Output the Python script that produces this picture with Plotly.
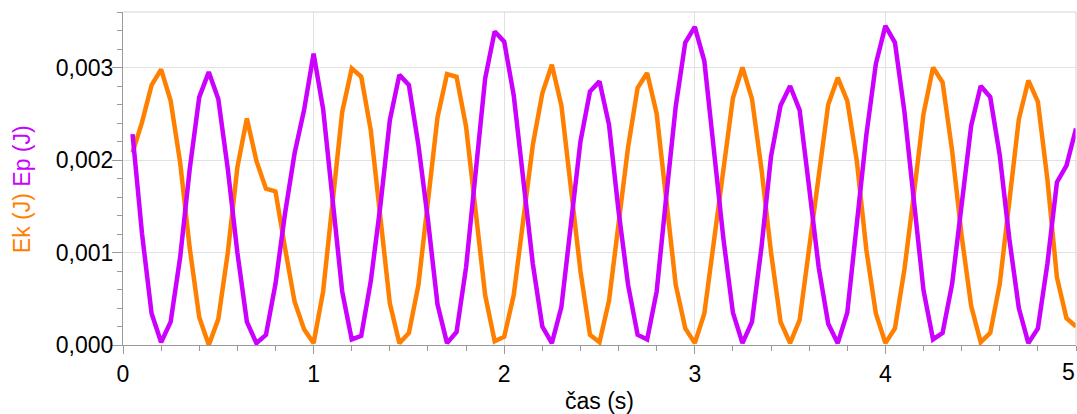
import numpy as np
import plotly.graph_objects as go

# time samples (s)
time_s = [round(0.05 * i, 2) for i in range(1, 101)]

# kinetic energy Ek (mJ)
ek_mj = [
    2.08, 2.41, 2.81, 2.98, 2.64, 1.97, 1.05, 0.30, 0.00, 0.28,
    1.00, 1.92, 2.45, 1.99, 1.69, 1.66, 1.05, 0.47, 0.17, 0.02,
    0.58, 1.58, 2.52, 2.99, 2.90, 2.32, 1.38, 0.45, 0.02, 0.13,
    0.65, 1.60, 2.46, 2.93, 2.90, 2.36, 1.45, 0.54, 0.04, 0.09,
    0.54, 1.40, 2.16, 2.72, 3.03, 2.59, 1.67, 0.80, 0.11, 0.03,
    0.48, 1.28, 2.14, 2.78, 2.94, 2.50, 1.55, 0.65, 0.18, 0.02,
    0.34, 1.14, 1.95, 2.67, 3.00, 2.66, 1.90, 1.00, 0.25, 0.02,
    0.27, 1.03, 1.86, 2.60, 2.89, 2.64, 1.99, 1.03, 0.34, 0.02,
    0.18, 0.82, 1.64, 2.50, 3.00, 2.84, 2.10, 1.18, 0.42, 0.03,
    0.13, 0.66, 1.55, 2.44, 2.86, 2.63, 1.79, 0.73, 0.29, 0.20,
]

# potential energy Ep (mJ)
ep_mj = [
    2.28, 1.20, 0.34, 0.03, 0.25, 0.95, 1.90, 2.68, 2.95, 2.66,
    1.90, 1.00, 0.25, 0.02, 0.11, 0.66, 1.42, 2.07, 2.54, 3.15,
    2.55, 1.58, 0.58, 0.06, 0.10, 0.69, 1.50, 2.43, 2.92, 2.81,
    2.16, 1.35, 0.44, 0.02, 0.14, 0.84, 1.84, 2.88, 3.39, 3.28,
    2.70, 1.75, 0.88, 0.20, 0.02, 0.41, 1.33, 2.20, 2.74, 2.85,
    2.38, 1.45, 0.65, 0.11, 0.06, 0.58, 1.60, 2.58, 3.27, 3.44,
    3.07, 2.15, 1.15, 0.35, 0.02, 0.25, 1.06, 2.04, 2.59, 2.80,
    2.54, 1.70, 0.84, 0.23, 0.02, 0.35, 1.28, 2.27, 3.04, 3.45,
    3.27, 2.52, 1.55, 0.59, 0.06, 0.13, 0.66, 1.48, 2.37, 2.80,
    2.68, 2.05, 1.15, 0.40, 0.02, 0.18, 0.88, 1.76, 1.94, 2.34,
]

x_ticks = [0, 1, 2, 3, 4, 5]
y_ticks = [0.0, 0.001, 0.002, 0.003]

ek = np.array(ek_mj) * 1e-3
ep = np.array(ep_mj) * 1e-3

ORANGE = "#FF8000"
PURPLE = "#CC00FF"
FONT = "Liberation Sans, Arial, sans-serif"
AX = "#9a9a9a"
FS = 23

fig = go.Figure()
fig.add_trace(go.Scatter(x=time_s, y=ek, mode="lines",
                         line=dict(color=ORANGE, width=4.5), name="Ek"))
fig.add_trace(go.Scatter(x=time_s, y=ep, mode="lines",
                         line=dict(color=PURPLE, width=4.5), name="Ep"))

annotations = [dict(
    text=f"<span style='color:{ORANGE}'>Ek (J)</span> "
         f"<span style='color:{PURPLE}'>Ep (J)</span>",
    xref="paper", yref="paper",
    x=-0.106, y=0.468, xanchor="center", yanchor="middle",
    textangle=-90, showarrow=False,
    font=dict(size=FS, family=FONT),
)]
# last x tick label sits at the right edge; keep it just inside the window
annotations.append(dict(
    text=str(x_ticks[-1]), x=x_ticks[-1], xref="x",
    y=0, yref="paper", yshift=-12, xanchor="right", yanchor="top",
    xshift=1, showarrow=False,
    font=dict(size=FS, family=FONT, color="black"),
))

fig.update_layout(
    width=1077, height=414,
    margin=dict(l=123, r=1, t=12, b=69),
    paper_bgcolor="white", plot_bgcolor="white",
    showlegend=False,
    separators=", ",
    font=dict(family=FONT, size=FS, color="black"),
    xaxis=dict(
        range=[0, 5], tickvals=x_ticks[:-1],
        ticktext=[str(v) for v in x_ticks[:-1]],
        showgrid=True, gridcolor="#e2e2e2", gridwidth=1,
        showline=True, linecolor=AX, linewidth=1,
        ticks="outside", ticklen=8, tickcolor=AX,
        minor=dict(dtick=0.2, ticks="outside", ticklen=5,
                   tickcolor=AX, showgrid=False),
        zeroline=False,
        title=dict(text="čas (s)", font=dict(size=FS), standoff=8),
        tickfont=dict(size=FS),
    ),
    yaxis=dict(
        range=[0, 0.0036], tickvals=y_ticks,
        tickformat=".3f",
        showgrid=True, gridcolor="#e2e2e2", gridwidth=1,
        showline=True, linecolor=AX, linewidth=1,
        ticks="outside", ticklen=10, tickcolor=AX,
        ticklabelstandoff=-6,
        minor=dict(dtick=0.0002, ticks="outside", ticklen=5,
                   tickcolor=AX, showgrid=False),
        zeroline=False,
        tickfont=dict(size=FS),
    ),
    annotations=annotations,
    shapes=[
        dict(type="line", xref="paper", yref="paper", x0=0, x1=1, y0=1, y1=1,
             line=dict(color="#d4d4d4", width=1)),
        dict(type="line", xref="paper", yref="paper", x0=1, x1=1, y0=0, y1=1,
             line=dict(color="#d4d4d4", width=1)),
    ],
)

fig.write_html("out.html")
